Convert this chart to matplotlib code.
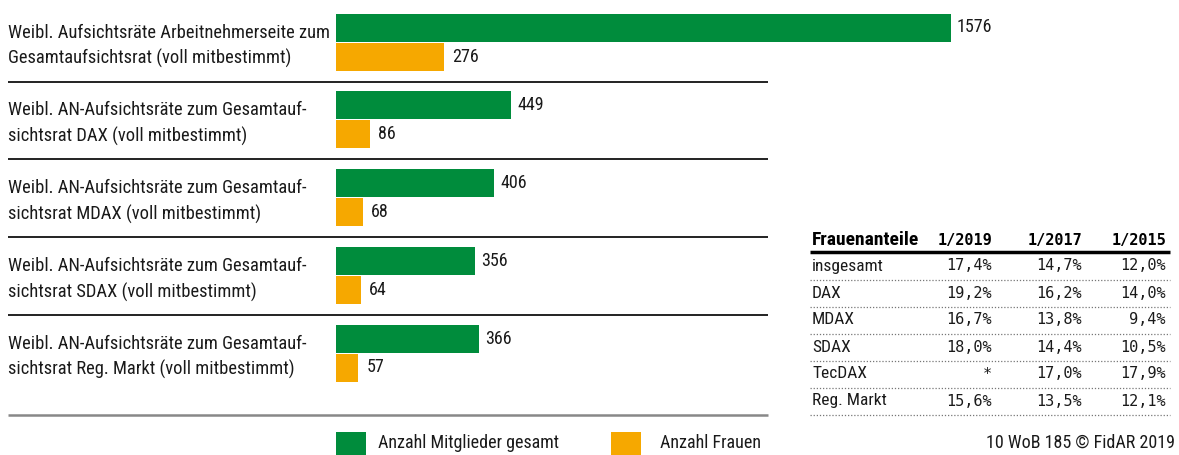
import matplotlib.pyplot as plt
from matplotlib.patches import Rectangle
from matplotlib import font_manager

# data
labels = [
    "Weibl. Aufsichtsräte Arbeitnehmerseite zum\nGesamtaufsichtsrat (voll mitbestimmt)",
    "Weibl. AN-Aufsichtsräte zum Gesamtauf-\nsichtsrat DAX (voll mitbestimmt)",
    "Weibl. AN-Aufsichtsräte zum Gesamtauf-\nsichtsrat MDAX (voll mitbestimmt)",
    "Weibl. AN-Aufsichtsräte zum Gesamtauf-\nsichtsrat SDAX (voll mitbestimmt)",
    "Weibl. AN-Aufsichtsräte zum Gesamtauf-\nsichtsrat Reg. Markt (voll mitbestimmt)",
]
gesamt = [1576, 449, 406, 356, 366]
frauen = [276, 86, 68, 64, 57]

tab_header = ["Frauenanteile", "1/2019", "1/2017", "1/2015"]
tab_rows = ["insgesamt", "DAX", "MDAX", "SDAX", "TecDAX", "Reg. Markt"]
tab_2019 = ["17,4%", "19,2%", "16,7%", "18,0%", "*", "15,6%"]
tab_2017 = ["14,7%", "16,2%", "13,8%", "14,4%", "17,0%", "13,5%"]
tab_2015 = ["12,0%", "14,0%", "9,4%", "10,5%", "17,9%", "12,1%"]

legend_labels = ["Anzahl Mitglieder gesamt", "Anzahl Frauen"]
credit = "10 WoB 185 © FidAR 2019"

GREEN = "#008C3C"
ORANGE = "#F6A800"
TXT = "#1a1a1a"
W, H = 1179, 455

# pick a narrow-ish font that is installed (scale = size factor)
installed = {f.name for f in font_manager.fontManager.ttflist}
candidates = [("Roboto Condensed", 1.0), ("Liberation Sans Narrow", 1.0),
              ("DejaVu Sans Condensed", 0.9), ("Liberation Sans", 0.88)]
FONT, SC = ["DejaVu Sans"], 0.82
for name, s in candidates:
    if name in installed:
        FONT, SC = [name, "DejaVu Sans"], s
        break
MONO = ["DejaVu Sans Mono"]
FS_LAB = 13.3 * SC
FS_VAL = 13 * SC
FS_TAB = 12.5 * SC
FS_HEAD = 14 * SC

fig = plt.figure(figsize=(W / 100, H / 100), dpi=100)

# overlay in pixel coordinates for text, lines, table
ov = fig.add_axes([0, 0, 1, 1])
ov.set_xlim(0, W)
ov.set_ylim(H, 0)
ov.axis("off")

# bar axes: x from pixel 336 to 950.5 for 0..1576
x0, x1 = 336, 950.5
ax = fig.add_axes([x0 / W, 0, (x1 - x0) / W, 1])
ax.set_xlim(0, max(gesamt))
ax.set_ylim(H, 0)
ax.axis("off")

pitch = 77.75
bh = 28
for i, lab in enumerate(labels):
    gc = 42 + i * pitch
    ax.barh(gc - 14.5, gesamt[i], height=bh, color=GREEN)
    ax.barh(gc + 14.5, frauen[i], height=bh, color=ORANGE)
    ax.annotate(str(gesamt[i]), (gesamt[i], gc - 14.5), xytext=(4.5, 0),
                textcoords="offset points", va="center", ha="left",
                fontsize=FS_VAL, color=TXT, family=FONT, annotation_clip=False)
    ax.annotate(str(frauen[i]), (frauen[i], gc + 14.5), xytext=(6, 0),
                textcoords="offset points", va="center", ha="left",
                fontsize=FS_VAL, color=TXT, family=FONT, annotation_clip=False)
    ov.text(8, gc + 4, lab, va="center", ha="left", fontsize=FS_LAB,
            color=TXT, family=FONT, linespacing=1.5)
    if i < len(labels) - 1:
        ov.plot([8, 768], [gc + 39.5, gc + 39.5], color="#111111", lw=1.3,
                solid_capstyle="butt")
ov.plot([8, 768], [415, 415], color="#888888", lw=1.8, solid_capstyle="butt")

# table
col_x = [812, 992, 1082, 1166]
ov.text(col_x[0], 240, tab_header[0], ha="left", va="center",
        fontsize=FS_HEAD, fontweight="bold", color="black", family=FONT)
for j in range(1, 4):
    ov.text(col_x[j], 240, tab_header[j], ha="right", va="center",
            fontsize=11, fontweight="bold", color="black", family=MONO)
ov.plot([810, 1170], [252, 252], color="black", lw=2.5, solid_capstyle="butt")
for r, name in enumerate(tab_rows):
    y = 266 + r * 27
    ov.text(col_x[0], y, name, ha="left", va="center", fontsize=FS_TAB,
            color=TXT, family=FONT)
    for j, col in enumerate([tab_2019, tab_2017, tab_2015]):
        ov.text(col_x[j + 1], y, col[r], ha="right", va="center",
                fontsize=11, color=TXT, family=MONO)
    ov.plot([810, 1170], [y + 13.5, y + 13.5], color="#777777", lw=0.9,
            linestyle=(0, (1, 1.5)))

# legend
ov.add_patch(Rectangle((336, 432), 30, 24, color=GREEN, lw=0))
ov.text(378, 443, legend_labels[0], ha="left", va="center", fontsize=FS_VAL,
        color=TXT, family=FONT)
ov.add_patch(Rectangle((611, 432), 30, 24, color=ORANGE, lw=0))
ov.text(660, 443, legend_labels[1], ha="left", va="center", fontsize=FS_VAL,
        color=TXT, family=FONT)
ov.text(1175, 443, credit, ha="right", va="center", fontsize=FS_VAL,
        color=TXT, family=FONT)

fig.savefig("out.png", dpi=100)
